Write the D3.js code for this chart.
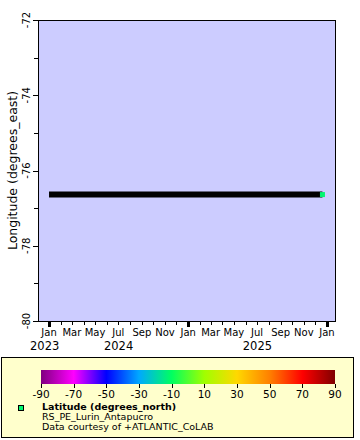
<!DOCTYPE html>
<html><head><meta charset="utf-8">
<script src="https://cdn.jsdelivr.net/npm/d3@7"></script>
<style>body{margin:0;background:#fff}svg{display:block;font-family:"DejaVu Sans",sans-serif}</style>
</head><body><svg id="c" width="360" height="440"></svg>
<script>
// Data
const times = ["2024-01-01", "2025-12-20"];
const longitude = [-76.64, -76.64];
const latitude = [-12.0, -12.0];
const yTicks = [-80, -78, -76, -74, -72];
const monthLabels = ["Jan","Feb","Mar","Apr","May","Jun","Jul","Aug","Sep","Oct","Nov","Dec"];
const yearLabels = [2023, 2024, 2025];
const cbTicks = [-90, -70, -50, -30, -10, 10, 30, 50, 70, 90];
const cbColors = ["#800080","#ff00ff","#0000ff","#00a8ff","#00ff60","#a0ff00","#ffd800","#ff8000","#ff0000","#800000"];
const legendTitle = "Latitude (degrees_north)";
const legendLines = ["RS_PE_Lurin_Antapucro", "Data courtesy of +ATLANTIC_CoLAB"];
const yTitle = "Longitude (degrees_east)";

const svg = d3.select("#c");
const L = 38, R = 335, T = 20, B = 321;
const parse = d3.utcParse("%Y-%m-%d");
const x = d3.scaleUtc().domain([parse("2023-12-03"), parse("2026-01-22")]).range([L, R]);
const y = d3.scaleLinear().domain([-80, -72]).range([B, T]);
const color = d3.scaleLinear().domain(cbTicks).range(cbColors);

svg.append("rect").attr("x", L).attr("y", T).attr("width", R - L).attr("height", B - T).attr("fill", "#ccccff");

// data line
const pts = times.map((t, i) => ({t: parse(t), lon: longitude[i], lat: latitude[i]}));
svg.append("path").datum(pts)
  .attr("d", d3.line().x(d => x(d.t)).y(d => y(d.lon)))
  .attr("stroke", "#000").attr("stroke-width", 6).attr("fill", "none");
const last = pts[pts.length - 1];
svg.append("rect").attr("x", x(last.t) - 2.5).attr("y", y(last.lon) - 2.5).attr("width", 5).attr("height", 5)
  .attr("fill", color(last.lat));

// frame
svg.append("rect").attr("x", L).attr("y", T).attr("width", R - L).attr("height", B - T)
  .attr("fill", "none").attr("stroke", "#000").attr("shape-rendering", "crispEdges");

// y axis ticks
const yMinor = d3.range(-80, -71, 1);
svg.append("g").selectAll("line").data(yMinor).join("line")
  .attr("x1", L).attr("x2", d => L - (yTicks.includes(d) ? 5 : 4))
  .attr("y1", d => Math.round(y(d)) + 0.5).attr("y2", d => Math.round(y(d)) + 0.5).attr("stroke", "#000");
svg.append("g").selectAll("text").data(yTicks).join("text")
  .attr("transform", d => `translate(30,${y(d)}) rotate(-90)`)
  .attr("text-anchor", "middle").attr("font-size", 10).text(d => d);
svg.append("text").attr("transform", `translate(17,${(T + B) / 2}) rotate(-90)`)
  .attr("text-anchor", "middle").attr("font-size", 12.5).text(yTitle);

// x axis ticks
const months = d3.utcMonth.range(x.domain()[0], x.domain()[1]);
svg.append("g").selectAll("line").data(months).join("line")
  .attr("x1", d => Math.round(x(d)) + 0.5).attr("x2", d => Math.round(x(d)) + 0.5)
  .attr("y1", B).attr("y2", d => B + (d.getUTCMonth() === 0 ? 6 : 4))
  .attr("stroke", "#000").attr("stroke-width", d => d.getUTCMonth() === 0 ? 3 : 1);
svg.append("g").selectAll("text").data(months.filter(d => d.getUTCMonth() % 2 === 0)).join("text")
  .attr("x", d => x(d)).attr("y", 336).attr("text-anchor", "middle").attr("font-size", 10)
  .text(d => monthLabels[d.getUTCMonth()]);
svg.append("g").selectAll("text").data(yearLabels).join("text")
  .attr("x", d => {
    const mid = x(new Date(Date.UTC(d, 6, 2)));
    return mid < L ? 30 : mid;
  })
  .attr("text-anchor", d => x(new Date(Date.UTC(d, 6, 2))) < L ? "start" : "middle")
  .attr("y", 350).attr("font-size", 11.5).text(d => d);

// legend
svg.append("rect").attr("x", 1.5).attr("y", 357.5).attr("width", 352).attr("height", 80)
  .attr("fill", "#ffffcc").attr("stroke", "#000");
const cx = d3.scaleLinear().domain([-90, 90]).range([41, 335]);
const grad = svg.append("defs").append("linearGradient").attr("id", "g");
cbTicks.forEach((v, i) => grad.append("stop").attr("offset", (v + 90) / 180).attr("stop-color", cbColors[i]));
svg.append("rect").attr("x", 41).attr("y", 370).attr("width", 294).attr("height", 14).attr("fill", "url(#g)");
svg.append("g").selectAll("line").data(cbTicks).join("line")
  .attr("x1", d => Math.round(cx(d)) + 0.5).attr("x2", d => Math.round(cx(d)) + 0.5)
  .attr("y1", 384).attr("y2", 388).attr("stroke", "#000");
svg.append("g").selectAll("text").data(cbTicks).join("text")
  .attr("x", d => cx(d)).attr("y", 398).attr("text-anchor", "middle").attr("font-size", 10.5).text(d => d);
svg.append("rect").attr("x", 18.5).attr("y", 405.5).attr("width", 5).attr("height", 5)
  .attr("fill", color(latitude[0])).attr("stroke", "#000");
svg.append("text").attr("x", 42).attr("y", 410).attr("font-size", 9.5).attr("font-weight", "bold").text(legendTitle);
svg.append("g").selectAll("text").data(legendLines).join("text")
  .attr("x", 42).attr("y", (d, i) => 420 + i * 10).attr("font-size", 9.5).text(d => d);
</script></body></html>
